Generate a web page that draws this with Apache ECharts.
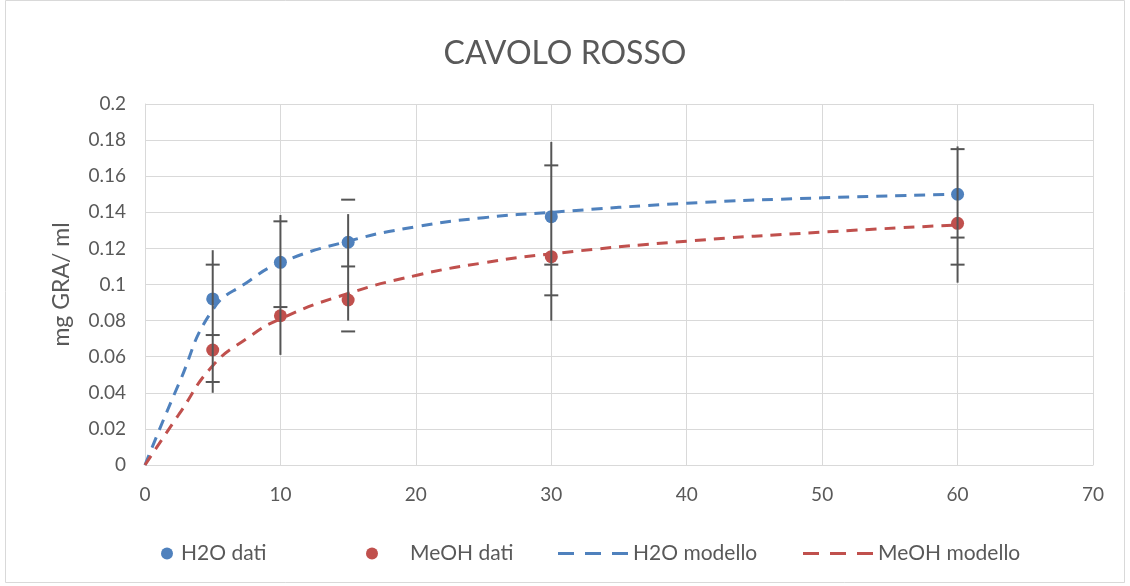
<!DOCTYPE html>
<html>
<head>
<meta charset="utf-8">
<script src="https://cdn.jsdelivr.net/npm/echarts@6/dist/echarts.min.js"></script>
<style>
html,body{margin:0;padding:0;background:#fff;}
#chart{width:1130px;height:586px;}
</style>
</head>
<body>
<div id="chart"></div>
<script>
// ---- data ----
const dataX = [5, 10, 15, 30, 60];
const h2oDati = [0.092, 0.1123, 0.1234, 0.1376, 0.150];
const meohDati = [0.0637, 0.0827, 0.0914, 0.1154, 0.1339];

const modelX = [0, 2.5, 5, 7.5, 10, 15, 20, 25, 30, 40, 50, 60];
const h2oModello = [0, 0.045, 0.086, 0.101, 0.112, 0.124, 0.132, 0.137, 0.140, 0.145, 0.148, 0.150];
const meohModello = [0, 0.028, 0.055, 0.070, 0.081, 0.095, 0.105, 0.112, 0.117, 0.124, 0.129, 0.133];

// error bar vertical extents and cap positions at each dataX
const errLow = [0.040, 0.061, 0.080, 0.080, 0.101];
const errHigh = [0.119, 0.1385, 0.139, 0.179, 0.1765];
const errCaps = [
  [0.111, 0.072, 0.046],
  [0.135, 0.0875],
  [0.147, 0.110, 0.074],
  [0.166, 0.111, 0.094],
  [0.175, 0.126, 0.111]
];

const yTicks = [0, 0.02, 0.04, 0.06, 0.08, 0.1, 0.12, 0.14, 0.16, 0.18, 0.2];
const xTicks = [0, 10, 20, 30, 40, 50, 60, 70];

const BLUE = '#4f81bd', RED = '#c0504d', TXT = '#595959', GRID = '#d9d9d9', ERR = '#555555';
const FONT = 'Lato';

const zip = (xs, ys) => xs.map((x, i) => [x, ys[i]]);
const errLineData = dataX.map((x, i) => [x, errLow[i], errHigh[i]]);
const capData = [];
dataX.forEach((x, i) => errCaps[i].forEach(v => capData.push([x, v])));

const chart = echarts.init(document.getElementById('chart'), null, {renderer: 'canvas'});

const legendText = {color: TXT, fontFamily: FONT, fontSize: 21};
const legendBase = {orient: 'horizontal', top: 538, selectedMode: false};
const DASH_ICON = 'path://M0 0H16V3H0Z M27 0H43V3H27Z M54 0H70V3H54Z';

chart.setOption({
  backgroundColor: '#fff',
  animation: false,
  title: {
    text: 'CAVOLO ROSSO', left: 'center', top: 33,
    textStyle: {color: TXT, fontFamily: FONT, fontSize: 32, fontWeight: 'normal'}
  },
  graphic: [{
    type: 'rect', shape: {x: 5.5, y: 0.5, width: 1119, height: 582},
    style: {fill: 'none', stroke: GRID, lineWidth: 1}, silent: true, z: -10
  }],
  legend: [
    Object.assign({}, legendBase, {left: 156, itemWidth: 12, itemHeight: 12,
      data: [{name: 'H2O dati', icon: 'circle'}],
      textStyle: Object.assign({}, legendText, {padding: [0, 0, 0, 3]})}),
    Object.assign({}, legendBase, {left: 361, itemWidth: 12, itemHeight: 12,
      data: [{name: 'MeOH dati', icon: 'circle'}],
      textStyle: Object.assign({}, legendText, {padding: [0, 0, 0, 27]})}),
    Object.assign({}, legendBase, {left: 553, itemWidth: 70, itemHeight: 3,
      data: [{name: 'H2O modello', icon: DASH_ICON}], textStyle: legendText}),
    Object.assign({}, legendBase, {left: 798, itemWidth: 70, itemHeight: 3,
      data: [{name: 'MeOH modello', icon: DASH_ICON}], textStyle: legendText})
  ],
  grid: {left: 145, right: 37, top: 104, bottom: 121, containLabel: false},
  xAxis: {
    type: 'value', min: xTicks[0], max: xTicks[xTicks.length - 1], interval: 10,
    axisLine: {show: true, lineStyle: {color: GRID, width: 1}},
    axisTick: {show: false},
    axisLabel: {color: TXT, fontFamily: FONT, fontSize: 19, margin: 20},
    splitLine: {show: true, lineStyle: {color: GRID, width: 1}}
  },
  yAxis: {
    type: 'value', min: yTicks[0], max: yTicks[yTicks.length - 1], interval: 0.02,
    name: 'mg GRA/ ml', nameLocation: 'middle', nameGap: 72, nameRotate: 90,
    nameTextStyle: {color: TXT, fontFamily: FONT, fontSize: 23},
    axisLine: {show: true, lineStyle: {color: GRID, width: 1}},
    axisTick: {show: false},
    axisLabel: {color: TXT, fontFamily: FONT, fontSize: 19, margin: 19},
    splitLine: {show: true, lineStyle: {color: GRID, width: 1}}
  },
  series: [
    {
      name: 'H2O modello', type: 'line', data: zip(modelX, h2oModello), smooth: true,
      symbol: 'none', color: BLUE, z: 2,
      lineStyle: {color: BLUE, width: 3, type: [11, 8]}
    },
    {
      name: 'MeOH modello', type: 'line', data: zip(modelX, meohModello), smooth: true,
      symbol: 'none', color: RED, z: 2,
      lineStyle: {color: RED, width: 3, type: [11, 8]}
    },
    {
      name: 'H2O dati', type: 'scatter', data: zip(dataX, h2oDati), symbol: 'circle',
      symbolSize: 13, itemStyle: {color: BLUE, opacity: 1}, color: BLUE, z: 3
    },
    {
      name: 'MeOH dati', type: 'scatter', data: zip(dataX, meohDati), symbol: 'circle',
      symbolSize: 13, itemStyle: {color: RED, opacity: 1}, color: RED, z: 3
    },
    {
      name: 'err-lines', type: 'custom', data: errLineData, z: 4,
      encode: {x: 0, y: [1, 2]},
      renderItem: function (params, api) {
        const x = api.value(0);
        const p1 = api.coord([x, api.value(1)]);
        const p2 = api.coord([x, api.value(2)]);
        return {type: 'line', shape: {x1: p1[0], y1: p1[1], x2: p2[0], y2: p2[1]},
          style: {stroke: ERR, lineWidth: 2}};
      }
    },
    {
      name: 'err-caps', type: 'custom', data: capData, z: 4,
      encode: {x: 0, y: 1},
      renderItem: function (params, api) {
        const p = api.coord([api.value(0), api.value(1)]);
        return {type: 'line', shape: {x1: p[0] - 7, y1: p[1], x2: p[0] + 7, y2: p[1]},
          style: {stroke: ERR, lineWidth: 2}};
      }
    }
  ]
});
</script>
</body>
</html>
